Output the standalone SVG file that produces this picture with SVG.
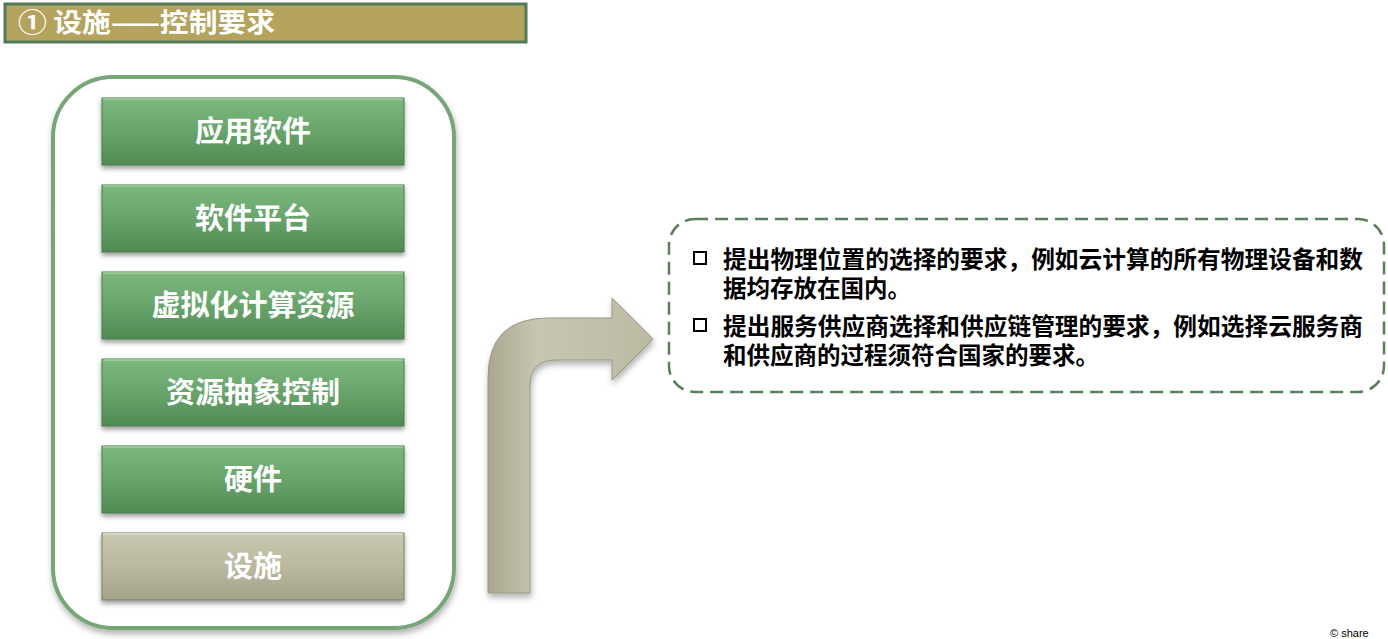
<svg xmlns="http://www.w3.org/2000/svg" width="1388" height="639" viewBox="0 0 1388 639">
<defs>
<linearGradient id="gGreen" x1="0" y1="0" x2="0" y2="1">
<stop offset="0" stop-color="#7cb87e"/>
<stop offset="0.5" stop-color="#68a56b"/>
<stop offset="1" stop-color="#4f8a52"/>
</linearGradient>
<linearGradient id="gBeige" x1="0" y1="0" x2="0" y2="1">
<stop offset="0" stop-color="#cac8b2"/>
<stop offset="0.5" stop-color="#bab8a0"/>
<stop offset="1" stop-color="#a4a28a"/>
</linearGradient>
<linearGradient id="gArrow" x1="0" y1="0" x2="1" y2="0">
<stop offset="0" stop-color="#a9a790"/>
<stop offset="0.3" stop-color="#c8c6b0"/>
<stop offset="1" stop-color="#bcbaa3"/>
</linearGradient>
<filter id="sh" x="-10%" y="-10%" width="125%" height="140%">
<feDropShadow dx="0" dy="3" stdDeviation="2.5" flood-color="#000" flood-opacity="0.4"/>
</filter>
<filter id="shBig" x="-10%" y="-10%" width="125%" height="125%">
<feDropShadow dx="1" dy="4" stdDeviation="3" flood-color="#000" flood-opacity="0.3"/>
</filter>
</defs>
<style>
.box{stroke:#4b7a4e;stroke-width:1;filter:url(#sh)}
.lbl{font-family:"Noto Sans CJK SC","Noto Sans",sans-serif;font-weight:bold;font-size:29px;fill:#fff;text-anchor:middle}
.txt{font-family:"Liberation Sans","Noto Sans CJK SC",sans-serif;font-weight:bold;font-size:23.5px;fill:#000}
.hl{stroke:#9fd0a0;stroke-width:1.5}
</style>
<rect width="1388" height="639" fill="#fff"/>

<g id="title">
<rect x="5" y="4" width="521" height="38" fill="#b4a35c" stroke="#4f7b58" stroke-width="3"/>
<text x="18" y="32" font-family="'Noto Sans CJK SC','Noto Sans',sans-serif" font-weight="bold" font-size="26" fill="#fff" textLength="257" lengthAdjust="spacingAndGlyphs">① 设施——控制要求</text>
</g>

<g id="container">
<rect x="53" y="77" width="401" height="551" rx="60" ry="60" fill="#fff" stroke="#76a678" stroke-width="4" filter="url(#shBig)"/>
</g>

<g id="n1">
<rect class="box" x="102" y="98" width="302" height="67" fill="url(#gGreen)"/>
<line class="hl" x1="103" y1="99" x2="403" y2="99"/>
<text class="lbl" x="253" y="142">应用软件</text>
</g>
<g id="n2">
<rect class="box" x="102" y="185" width="302" height="67" fill="url(#gGreen)"/>
<line class="hl" x1="103" y1="186" x2="403" y2="186"/>
<text class="lbl" x="253" y="229">软件平台</text>
</g>
<g id="n3">
<rect class="box" x="102" y="272" width="302" height="67" fill="url(#gGreen)"/>
<line class="hl" x1="103" y1="273" x2="403" y2="273"/>
<text class="lbl" x="253" y="316">虚拟化计算资源</text>
</g>
<g id="n4">
<rect class="box" x="102" y="359" width="302" height="67" fill="url(#gGreen)"/>
<line class="hl" x1="103" y1="360" x2="403" y2="360"/>
<text class="lbl" x="253" y="403">资源抽象控制</text>
</g>
<g id="n5">
<rect class="box" x="102" y="446" width="302" height="67" fill="url(#gGreen)"/>
<line class="hl" x1="103" y1="447" x2="403" y2="447"/>
<text class="lbl" x="253" y="490">硬件</text>
</g>
<g id="n6">
<rect x="102" y="533" width="302" height="67" fill="url(#gBeige)" stroke="#7e7c68" stroke-width="1" filter="url(#sh)"/>
<line x1="103" y1="534" x2="403" y2="534" stroke="#e0dfcf" stroke-width="1.5"/>
<text class="lbl" x="253" y="577">设施</text>
</g>

<g id="connectors">
<path d="M488,593 L488,378 Q488,318 548,318 L612,318 L612,298 L653,339 L612,380 L612,360 L556,360 Q530,360 530,386 L530,593 Z" fill="url(#gArrow)" stroke="#9a9880" stroke-width="1" filter="url(#shBig)"/>
</g>

<g id="note">
<rect x="669" y="219" width="715" height="173" rx="26" ry="26" fill="#fff" stroke="#5b7f5c" stroke-width="2.5" stroke-dasharray="13,7"/>
<rect x="694" y="252" width="12" height="12" fill="none" stroke="#000" stroke-width="2"/>
<rect x="694" y="319" width="12" height="12" fill="none" stroke="#000" stroke-width="2"/>
<text class="txt" x="723" y="268" textLength="640" lengthAdjust="spacingAndGlyphs">提出物理位置的选择的要求，例如云计算的所有物理设备和数</text>
<text class="txt" x="723" y="297">据均存放在国内。</text>
<text class="txt" x="723" y="335" textLength="640" lengthAdjust="spacingAndGlyphs">提出服务供应商选择和供应链管理的要求，例如选择云服务商</text>
<text class="txt" x="723" y="364">和供应商的过程须符合国家的要求。</text>
</g>

<text x="1330" y="637" font-family="'Liberation Sans',sans-serif" font-size="11" fill="#000">© share</text>
</svg>
